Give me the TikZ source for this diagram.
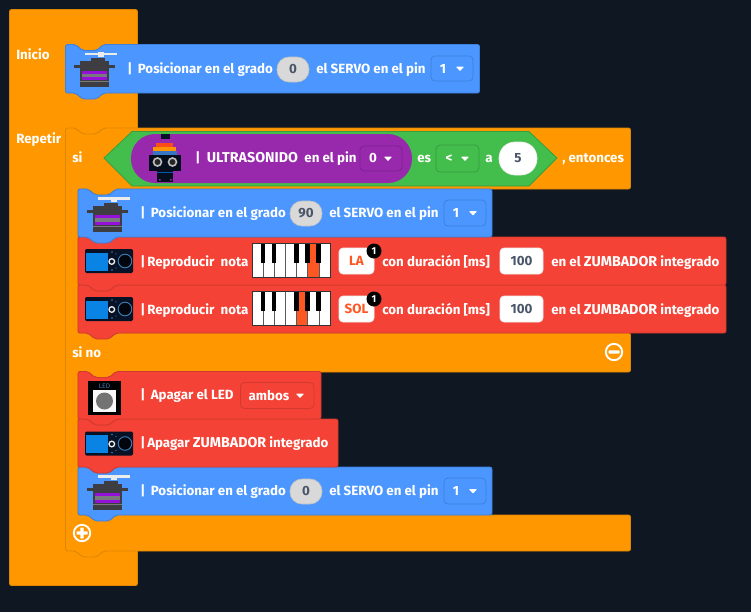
\documentclass[tikz,border=0pt]{standalone}
\usepackage{fontspec}
\setmainfont{Fira Sans}
\definecolor{bgc}{HTML}{0E1722}
\definecolor{oran}{HTML}{FF9800}
\definecolor{oranl}{HTML}{DE8602}
\definecolor{blu}{HTML}{4C97FF}
\definecolor{blul}{HTML}{3E80DC}
\definecolor{redb}{HTML}{F44336}
\definecolor{redl}{HTML}{D23A30}
\definecolor{grn}{HTML}{43BD4B}
\definecolor{grnl}{HTML}{36A03E}
\definecolor{purp}{HTML}{9829AD}
\definecolor{purpl}{HTML}{7E2190}
\definecolor{slate}{HTML}{4A5468}
\definecolor{notec}{HTML}{FF5722}
\definecolor{srv}{HTML}{3E3E42}
\definecolor{brd}{HTML}{081226}
\definecolor{srvp}{HTML}{9510D8}
\definecolor{srvg}{HTML}{7A7A7E}
\definecolor{lcd}{HTML}{0A84E4}
\definecolor{ringb}{HTML}{3A7FB5}
\definecolor{pillg}{HTML}{D9D9D9}
\definecolor{pillgl}{HTML}{C2C2C2}
\newcommand{\capw}[1]{{\fontsize{10.7}{11}\selectfont #1}}
\tikzset{
  txt/.style={anchor=base west,inner sep=0pt,text=white,font=\fontsize{10}{11}\selectfont\bfseries},
  fldtxt/.style={inner sep=0pt,font=\fontsize{10}{11}\selectfont\bfseries},
}
% name x1 y1 x2 y2 fill line
\newcommand{\blk}[7]{%
  \coordinate (#1) at (#2,#3);
  \path[draw=#7,fill=#6,rounded corners=1.6pt,line width=.7pt]
   (#2,#3) -- (#2+10,#3) -- (#2+17,#3+6) -- (#2+31,#3+6) -- (#2+38,#3) -- (#4,#3)
   -- (#4,#5) -- (#2+38,#5) -- (#2+31,#5+6) -- (#2+17,#5+6) -- (#2+10,#5) -- (#2,#5) -- cycle;}
\newcommand{\lbl}[4]{\node[txt] (#1) at (#2,#3) {#4};}
% name x1 y1 x2 y2 radius fill draw textcolor text
\newcommand{\fld}[9]{\fldb{#1}{#2}{#3}{#4}{#5}{#6}{#7}{#8}{#9}}
\newcommand{\fldb}[9]{%
  \path[fill=#7,draw=#8,line width=.5pt,rounded corners=#6] (#2,#3) rectangle (#4,#5);
  \def\fldname{#1}\def\fldcx{(#2+#4)/2}\def\fldcy{(#3+#5)/2}\def\fldtc{#9}\fldc}
\newcommand{\fldc}[1]{\node[fldtxt,text=\fldtc] (\fldname) at ({\fldcx},{\fldcy}) {#1};}
% dropdown: name x1 y1 x2 y2 line text textcentre arrowx
\newcommand{\drop}[9]{%
  \path[draw=#6,line width=.6pt,rounded corners=3pt] (#2,#3) rectangle (#4,#5);
  \node[fldtxt,text=white] (#1) at (#8,{(#3+#5)/2}) {#7};
  \fill[white,rounded corners=.5pt] (#9-4,{(#3+#5)/2-1.8}) -- (#9+4,{(#3+#5)/2-1.8}) -- (#9,{(#3+#5)/2+2.6}) -- cycle;}
% servo icon, offset dx dy from the first block's icon
\newcommand{\servo}[2]{\begin{scope}[shift={(#1*0.75pt,-#2*0.75pt)}]
  \fill[srv] (91,58) rectangle (105,62);
  \fill[srv] (80,61) rectangle (109,65);
  \fill[srv] (74,65) rectangle (115,68);
  \fill[srv] (80,68) rectangle (109,87);
  \fill[srvp] (82,70.5) rectangle (107,73.8);
  \fill[srvg] (82,73.8) rectangle (107,77.2);
  \fill[srvp] (82,77.2) rectangle (107,80);
  \fill[srvg] (80,81) rectangle (109,82);
  \fill[white!85!gray] (85,52.8) rectangle (117,55.2);
  \fill[white!85!gray] (98,52) rectangle (104,57);
\end{scope}}
\newcommand{\buzz}[2]{\begin{scope}[shift={(#1*0.75pt,-#2*0.75pt)}]
  \fill[brd,rounded corners=1pt] (85,249) rectangle (133,273);
  \fill[lcd] (85.6,252.5) rectangle (107.7,270.7);
  \draw[white!85!gray,line width=1pt] (111.8,261.5) circle[radius=2.8];
  \draw[ringb,line width=.7pt,fill=black!70!brd] (125,261) circle[radius=6.8];
  \fill[ringb] (112,252) circle[radius=.8] (116,254) circle[radius=.7] (112,270) circle[radius=.8] (116,268) circle[radius=.7];
\end{scope}}
\newcommand{\piano}[3]{\begin{scope}[shift={(#1*0.75pt,-#2*0.75pt)}]
  \fill[white] (252,243) rectangle (330,277.5);
  \fill[notec] (#3,243) rectangle ({#3+11},277.5);
  \foreach \kx in {263,274.2,285.4,296.6,307.7,318.9}{\draw[gray!70!black,line width=.5pt] (\kx,243) -- (\kx,277.5);}
  \foreach \kx in {263,274,296.3,307.7,318.7}{\fill[black] (\kx-2.3,243) rectangle (\kx+2.3,263);}
  \draw[black!80,line width=.7pt] (252,243) rectangle (330,277.5);
\end{scope}}
\newcommand{\badge}[3]{%
  \fill[black] (#2,#3) circle[radius=7.5];
  \node[fldtxt,text=white,font=\fontsize{7.5}{8}\selectfont\bfseries] (#1) at (#2,#3) {1};}
\begin{document}
\begin{tikzpicture}[x=0.75pt,y=-0.75pt]
\useasboundingbox (0,0) rectangle (751,612);
\fill[bgc] (0,0) rectangle (751,612);
% outer block
\path[draw=oranl,fill=oran,rounded corners=1.6pt,line width=.7pt] (9.5,9.5) rectangle (137.5,585.5);
% inner "si" block
\path[draw=oranl,fill=oran,rounded corners=1.6pt,line width=.7pt]
  (65.5,128) -- (75.5,128) -- (82.5,134) -- (96.5,134) -- (103.5,128) -- (630.5,128) -- (630.5,189)
  -- (116,189) -- (110,195) -- (95,195) -- (88,189) -- (78,189)
  -- (78,333) -- (630.5,333) -- (630.5,372) -- (116,372) -- (110,378) -- (95,378) -- (88,372) -- (78,372)
  -- (78,515) -- (630.5,515) -- (630.5,551) -- (103.5,551) -- (96.5,557) -- (82.5,557) -- (75.5,551) -- (65.5,551) -- cycle;
\lbl{inicio}{16}{59}{Inicio}
\lbl{repetir}{16}{143}{Repetir}
\lbl{si}{72}{162.5}{si}
\lbl{entonces}{562}{162.5}{, entonces}
\lbl{sino}{72}{357.5}{si no}
% first block
\blk{b1}{65.5}{44.5}{479.5}{93}{blu}{blul}
\servo{0}{0}
\lbl{t1a}{127}{73.5}{|\hspace{.42em}Posicionar en el grado}
\fld{f1}{277}{57}{309}{82}{9pt}{pillg}{pillgl}{slate}{0}
\lbl{t1b}{316}{73.5}{el SERVO en el pin}
\drop{d1}{431}{56}{473}{81}{blul}{1}{443}{460}
% hexagon and pill
\path[draw=grnl,fill=grn,line width=.6pt] (104,158) -- (132,131.5) -- (529,131.5) -- (557,158) -- (529,186) -- (132,186) -- cycle;
\path[fill=purp,rounded corners=18pt] (131,134) rectangle (412,183);
% robot
\fill[brd] (160.5,134) rectangle (169.5,139);
\fill[red!55!orange!90!white] (156,143) rectangle (173,147);
\fill[orange!85!yellow] (153,147) rectangle (176,151);
\fill[cyan!45!blue!85!white] (153,151) rectangle (177,155);
\fill[brd!80!black] (149,155) rectangle (181,171);
\fill[brd!80!black] (157,171) rectangle (173,182);
\draw[gray!50,line width=1.2pt,fill=gray!30!black] (157.5,162) circle[radius=4];
\draw[gray!50,line width=1.2pt,fill=gray!30!black] (172.5,162) circle[radius=4];
\fill[blue!50!cyan!70!black] (157,171.5) rectangle (173,173);
\fill[purp] (159,179) rectangle (160.5,180.5) (170,179) rectangle (171.5,180.5);
\lbl{t2a}{195}{162.5}{|\hspace{.5em}\capw{ULTRASONIDO}\hspace{.25em} en el pin}
\drop{d2}{360}{146}{402}{171}{purpl}{0}{373}{388}
\lbl{es}{417}{162.5}{es}
\drop{d3}{436}{145}{479}{172}{grnl}{<}{449}{465}
\lbl{a}{485}{162.5}{a}
\fld{f2}{499}{142}{537}{175}{12pt}{white}{white!85!gray}{slate}{5}
% else branch, drawn from the bottom up so that each tab lies over the next block
\blk{b7}{78}{467}{492}{515}{blu}{blul}
\servo{13}{422.5}
\lbl{t7a}{140}{495.5}{|\hspace{.42em}Posicionar en el grado}
\fld{f7}{290}{479}{322}{504}{9pt}{pillg}{pillgl}{slate}{0}
\lbl{t7b}{329}{495.5}{el SERVO en el pin}
\drop{d7}{444}{478}{486}{504}{blul}{1}{456}{473}
\blk{b6}{78}{419}{338}{467}{redb}{redl}
\buzz{0}{182.5}
\lbl{t6}{140}{447.5}{|\hspace{.15em}Apagar \capw{ZUMBADOR} integrado}
\blk{b5}{78}{371.5}{321}{419}{redb}{redl}
\fill[black] (88,381) rectangle (121,415);
\fill[white!95!gray] (93,390) rectangle (116,412);
\fill[gray!90!black] (104.5,401) circle[radius=8.5];
\node[inner sep=0pt,text=ringb,font=\fontsize{5}{6}\selectfont] (ledtxt) at (104.5,386) {LED};
\lbl{t5}{140}{399.5}{|\hspace{.42em}Apagar el LED}
\drop{d5}{240.5}{382.5}{314}{408.5}{redl}{ambos}{269}{300}
% then branch
\blk{b4}{78}{285}{726}{333}{redb}{redl}
\buzz{0}{48}
\lbl{t4a}{140}{314}{|\hspace{.15em}Reproducir\hspace{.22em} nota}
\piano{0}{48}{296.6}
\fld{f4a}{339}{296}{374}{322}{3pt}{white}{white!85!gray}{notec}{SOL}
\badge{n4}{374}{299}
\lbl{t4b}{382}{314}{con duración [ms]}
\fld{f4b}{500}{296}{543}{322}{3pt}{white}{white!85!gray}{slate}{100}
\lbl{t4c}{551}{314}{en el \capw{ZUMBADOR} integrado}
\blk{b3}{78}{237}{726}{285}{redb}{redl}
\buzz{0}{0}
\lbl{t3a}{140}{266}{|\hspace{.15em}Reproducir\hspace{.22em} nota}
\piano{0}{0}{307.7}
\fld{f3a}{339}{248}{374}{274}{3pt}{white}{white!85!gray}{notec}{LA}
\badge{n3}{374}{251}
\lbl{t3b}{382}{266}{con duración [ms]}
\fld{f3b}{500}{248}{543}{274}{3pt}{white}{white!85!gray}{slate}{100}
\lbl{t3c}{551}{266}{en el \capw{ZUMBADOR} integrado}
\blk{b2}{78}{189}{492}{237}{blu}{blul}
\servo{13}{144.5}
\lbl{t2b}{140}{217.5}{|\hspace{.42em}Posicionar en el grado}
\fld{f3}{290}{201}{322}{226}{9pt}{pillg}{pillgl}{slate}{90}
\lbl{t2c}{329}{217.5}{el SERVO en el pin}
\drop{d4}{444}{200}{486}{226}{blul}{1}{456}{473}
% collapse and add controls
\draw[white,line width=1.4pt] (614,352) circle[radius=8.2];
\fill[white,rounded corners=.5pt] (608.5,350.3) rectangle (619.5,353.7);
\draw[white,line width=1.4pt] (82,533) circle[radius=8.2];
\fill[white,rounded corners=.5pt] (76.5,531.3) rectangle (87.5,534.7);
\fill[white,rounded corners=.5pt] (80.3,527.5) rectangle (83.7,538.5);
\end{tikzpicture}
\end{document}
